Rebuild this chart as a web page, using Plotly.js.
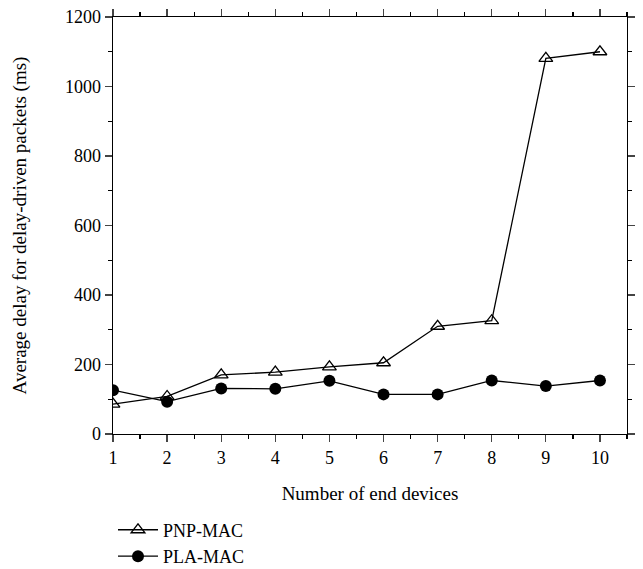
<!DOCTYPE html>
<html><head><meta charset="utf-8">
<script src="https://cdn.plot.ly/plotly-3.0.1.min.js"></script>
<style>body{margin:0;padding:0;background:#fff}</style>
</head><body>
<div id="chart" style="width:643px;height:569px"></div>
<script>
const devices = [1, 2, 3, 4, 5, 6, 7, 8, 9, 10];
const pnpMac = [86, 108, 170, 178, 193, 205, 310, 326, 1081, 1100];
const plaMac = [126, 93, 131, 130, 153, 114, 114, 154, 138, 154];

const font = {family: 'Liberation Serif, Times New Roman, serif', size: 18, color: '#000'};
const titleFont = {family: 'Liberation Serif, Times New Roman, serif', size: 19, color: '#000'};
const traces = [
  {x: devices, y: pnpMac, name: 'PNP-MAC', type: 'scatter', mode: 'lines+markers',
   line: {color: '#000', width: 1.3},
   marker: {symbol: 'triangle-up-open', size: 12, color: '#000', line: {width: 1.3}}},
  {x: devices, y: plaMac, name: 'PLA-MAC', type: 'scatter', mode: 'lines+markers',
   line: {color: '#000', width: 1.3},
   marker: {symbol: 'circle', size: 12, color: '#000'}}
];
const layout = {
  width: 643, height: 569,
  margin: {l: 113, r: 16, t: 17, b: 135, autoexpand: false},
  paper_bgcolor: '#fff', plot_bgcolor: '#fff',
  font: font,
  showlegend: true,
  legend: {x: 0, xanchor: 'left', y: -0.186, yanchor: 'top', orientation: 'v',
           font: font, tracegroupgap: 0, itemwidth: 40},
  xaxis: {range: [1, 10.5], tickvals: devices, ticks: 'outside', ticklen: 7, tickwidth: 1.3,
          showline: true, linecolor: '#000', linewidth: 1.3, mirror: 'allticks',
          showgrid: false, zeroline: false,
          minor: {dtick: 0.5, tick0: 1, ticks: 'outside', ticklen: 4, tickwidth: 1.3, tickcolor: '#000', showgrid: false},
          title: {text: 'Number of end devices', font: titleFont, standoff: 19}},
  yaxis: {range: [0, 1200], dtick: 200, tick0: 0, ticks: 'outside', ticklen: 7, tickwidth: 1.3,
          showline: true, linecolor: '#000', linewidth: 1.3, mirror: 'allticks',
          showgrid: false, zeroline: false,
          minor: {dtick: 100, tick0: 0, ticks: 'outside', ticklen: 4, tickwidth: 1.3, tickcolor: '#000', showgrid: false},
          title: {text: 'Average delay for delay-driven packets (ms)', font: titleFont, standoff: 33}}
};
Plotly.newPlot('chart', traces, layout, {displayModeBar: false, staticPlot: true});
</script>
</body></html>
